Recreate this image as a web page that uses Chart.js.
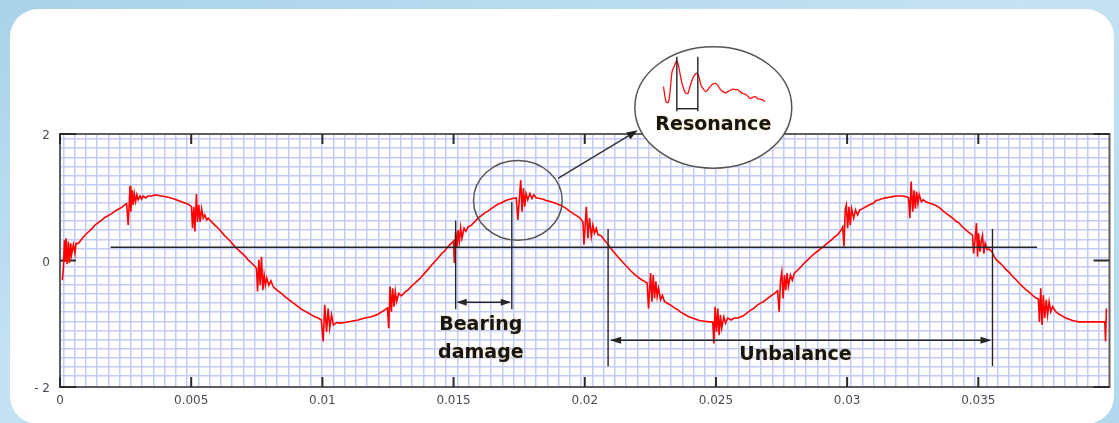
<!DOCTYPE html>
<html>
<head>
<meta charset="utf-8">
<script src="https://cdn.jsdelivr.net/npm/chart.js@4.4.0/dist/chart.umd.min.js"></script>
<style>
  html, body { margin: 0; padding: 0; width: 1119px; height: 423px; overflow: hidden; }
  body { background: linear-gradient(160deg, #a9d2ea 0%, #c4e2f3 45%, #b3d8ee 100%); position: relative; }
  .card { position: absolute; left: 10px; top: 9px; width: 1104px; height: 415px; background: #ffffff; border-radius: 28px; }
  canvas { position: absolute; left: 0; top: 0; }
</style>
</head>
<body>
<div class="card"></div>
<canvas id="c" width="1119" height="423"></canvas>
<script>
// ---------- axis ticks ----------
const X_TICKS = [0, 0.005, 0.01, 0.015, 0.02, 0.025, 0.03, 0.035];
const X_TICK_LABELS = ['0', '0.005', '0.01', '0.015', '0.02', '0.025', '0.03', '0.035'];
const Y_TICKS = [-2, 0, 2];
const Y_TICK_LABELS = ['- 2', '0', '2'];

// ---------- measured vibration signal (time in ms, amplitude) ----------
const TIME_MS = [
  0.09,0.13,0.17,0.19,0.23,0.27,0.32,0.36,0.41,0.44,
  0.51,0.57,0.61,0.70,0.83,0.95,1.08,1.21,1.33,1.46,
  1.59,1.71,1.84,1.97,2.09,2.22,2.35,2.50,2.54,2.60,
  2.67,2.70,2.75,2.79,2.83,2.88,2.93,2.98,3.05,3.11,
  3.17,3.26,3.36,3.49,3.62,3.87,4.13,4.38,4.63,4.89,
  5.01,5.05,5.10,5.14,5.20,5.24,5.29,5.34,5.40,5.46,
  5.52,5.59,5.65,5.78,5.90,6.03,6.16,6.28,6.41,6.54,
  6.66,6.79,6.92,7.05,7.17,7.30,7.43,7.49,7.53,7.58,
  7.63,7.68,7.73,7.78,7.83,7.88,7.96,8.04,8.12,8.19,
  8.31,8.44,8.57,8.70,8.82,8.95,9.08,9.20,9.33,9.46,
  9.58,9.71,9.84,9.96,10.03,10.09,10.16,10.22,10.28,10.35,
  10.42,10.54,10.66,10.85,11.11,11.36,11.61,11.87,12.12,12.38,
  12.48,12.53,12.58,12.63,12.68,12.73,12.78,12.83,12.91,13.01,
  13.14,13.26,13.39,13.52,13.65,13.77,13.90,14.03,14.15,14.28,
  14.41,14.53,14.66,14.79,14.91,15.00,15.03,15.08,15.13,15.17,
  15.22,15.27,15.32,15.40,15.47,15.55,15.68,15.80,15.93,16.06,
  16.18,16.31,16.44,16.57,16.69,16.82,16.95,17.07,17.26,17.39,
  17.45,17.56,17.61,17.66,17.71,17.76,17.83,17.91,17.99,18.06,
  18.15,18.28,18.41,18.53,18.72,18.91,19.10,19.23,19.42,19.61,
  19.80,19.93,19.97,20.06,20.12,20.18,20.25,20.31,20.37,20.44,
  20.50,20.63,20.75,20.88,21.01,21.14,21.26,21.39,21.52,21.64,
  21.77,21.90,22.02,22.15,22.28,22.38,22.43,22.51,22.56,22.61,
  22.66,22.71,22.76,22.81,22.89,22.96,23.04,23.17,23.29,23.42,
  23.55,23.67,23.80,23.93,24.05,24.18,24.37,24.56,24.75,24.88,
  24.92,24.97,25.02,25.07,25.12,25.17,25.22,25.30,25.37,25.45,
  25.58,25.70,25.83,25.96,26.09,26.21,26.34,26.47,26.59,26.72,
  26.85,26.97,27.10,27.23,27.35,27.41,27.46,27.51,27.56,27.61,
  27.66,27.71,27.76,27.84,27.91,27.99,28.12,28.24,28.37,28.50,
  28.62,28.75,28.88,29.00,29.13,29.26,29.39,29.51,29.64,29.77,
  29.83,29.88,29.93,29.97,30.02,30.07,30.12,30.17,30.25,30.32,
  30.40,30.48,30.59,30.72,30.85,30.97,31.04,31.10,31.23,31.35,
  31.48,31.61,31.73,31.86,31.99,32.11,32.24,32.34,32.39,32.44,
  32.50,32.55,32.60,32.65,32.70,32.75,32.83,32.90,33.00,33.13,
  33.26,33.38,33.51,33.64,33.76,33.89,34.02,34.15,34.27,34.40,
  34.53,34.65,34.78,34.82,34.88,34.93,34.97,35.01,35.06,35.11,
  35.16,35.21,35.26,35.34,35.41,35.52,35.61,35.69,35.80,35.92,
  36.05,36.18,36.30,36.43,36.56,36.68,36.81,36.94,37.07,37.19,
  37.29,37.33,37.38,37.43,37.48,37.53,37.59,37.64,37.70,37.76,
  37.83,37.95,38.08,38.21,38.33,38.46,38.59,38.72,38.84,39.10,
  39.35,39.60,39.82,39.85,39.88
];
const AMPLITUDE = [
  -0.31,-0.12,0.32,-0.02,0.35,-0.06,0.30,-0.04,0.27,0.09,
  0.25,0.11,0.27,0.27,0.34,0.40,0.45,0.50,0.56,0.60,
  0.64,0.68,0.71,0.74,0.78,0.81,0.84,0.89,0.90,0.56,
  1.18,0.77,1.11,0.88,1.06,0.93,1.04,0.96,1.02,0.97,
  1.02,0.99,1.02,1.02,1.04,1.02,1.00,0.97,0.93,0.89,
  0.85,0.51,0.85,0.46,1.05,0.61,0.88,0.61,0.82,0.67,
  0.72,0.64,0.67,0.61,0.56,0.51,0.45,0.39,0.34,0.28,
  0.22,0.17,0.12,0.07,0.01,-0.04,-0.09,-0.13,-0.49,0.01,
  -0.39,0.06,-0.47,-0.23,-0.39,-0.28,-0.39,-0.32,-0.41,-0.44,
  -0.48,-0.52,-0.57,-0.61,-0.65,-0.69,-0.73,-0.77,-0.80,-0.83,
  -0.86,-0.89,-0.91,-0.94,-1.28,-0.70,-1.13,-0.76,-1.07,-0.86,
  -1.02,-0.98,-0.99,-0.98,-0.96,-0.94,-0.91,-0.89,-0.85,-0.78,
  -0.75,-1.07,-0.41,-0.81,-0.44,-0.73,-0.49,-0.65,-0.52,-0.56,
  -0.50,-0.47,-0.41,-0.36,-0.31,-0.26,-0.20,-0.14,-0.08,-0.02,
  0.04,0.10,0.15,0.22,0.27,0.31,-0.04,0.46,0.20,0.48,
  0.30,0.52,0.35,0.51,0.46,0.53,0.56,0.61,0.67,0.71,
  0.75,0.78,0.82,0.86,0.89,0.91,0.94,0.96,0.98,0.99,
  0.64,1.27,0.77,1.14,0.85,1.06,0.96,1.06,0.98,1.04,
  0.99,0.98,0.97,0.95,0.93,0.90,0.87,0.84,0.78,0.73,
  0.68,0.61,0.25,0.85,0.35,0.67,0.38,0.56,0.43,0.51,
  0.41,0.39,0.32,0.26,0.18,0.12,0.06,0.00,-0.06,-0.11,
  -0.17,-0.22,-0.26,-0.30,-0.33,-0.36,-0.76,-0.20,-0.65,-0.23,
  -0.60,-0.33,-0.57,-0.44,-0.62,-0.55,-0.65,-0.68,-0.71,-0.75,
  -0.78,-0.82,-0.85,-0.88,-0.90,-0.92,-0.95,-0.96,-0.97,-0.97,
  -1.31,-0.73,-1.13,-0.76,-1.18,-0.86,-1.07,-0.89,-0.99,-0.91,
  -0.94,-0.91,-0.91,-0.89,-0.86,-0.82,-0.78,-0.75,-0.70,-0.67,
  -0.64,-0.60,-0.56,-0.52,-0.48,-0.81,-0.31,-0.18,-0.60,-0.23,
  -0.47,-0.20,-0.41,-0.23,-0.31,-0.20,-0.15,-0.10,-0.04,0.01,
  0.06,0.11,0.15,0.19,0.23,0.28,0.32,0.37,0.41,0.48,
  0.53,0.22,0.82,0.88,0.51,0.85,0.56,0.82,0.67,0.80,
  0.72,0.80,0.82,0.85,0.88,0.90,0.92,0.95,0.96,0.98,
  0.99,1.00,1.01,1.02,1.02,1.02,1.01,0.99,0.67,1.25,
  0.77,1.11,0.82,1.09,0.90,1.04,0.93,0.96,0.93,0.91,
  0.89,0.87,0.84,0.79,0.75,0.71,0.67,0.62,0.59,0.53,
  0.48,0.44,0.40,0.11,0.35,0.59,0.06,0.43,0.14,0.30,
  0.40,0.11,0.27,0.17,0.18,0.14,0.06,0.01,-0.03,-0.08,
  -0.14,-0.19,-0.25,-0.30,-0.36,-0.41,-0.46,-0.50,-0.55,-0.59,
  -0.61,-0.97,-0.44,-1.02,-0.55,-0.91,-0.62,-0.86,-0.65,-0.81,
  -0.73,-0.81,-0.85,-0.88,-0.91,-0.93,-0.95,-0.96,-0.97,-0.97,
  -0.97,-0.97,-0.97,-1.28,-0.76
];

// ---------- resonance close-up (drawn in data units above the plot) ----------
const INSET_MS = [23.00,23.10,23.19,23.27,23.33,23.42,23.51,23.57,23.65,23.74,
  23.84,23.93,23.99,24.09,24.18,24.27,24.35,24.43,24.52,24.60,
  24.69,24.78,24.88,24.98,25.07,25.16,25.26,25.36,25.45,25.54,
  25.64,25.74,25.83,25.92,26.02,26.12,26.21,26.30,26.40,26.50,
  26.59,26.68,26.78,26.87];
const INSET_Y = [2.75,2.51,2.50,2.75,2.99,3.08,3.16,3.09,2.91,2.75,
  2.65,2.64,2.72,2.85,2.93,2.96,2.91,2.77,2.71,2.67,
  2.70,2.75,2.79,2.80,2.77,2.71,2.67,2.65,2.67,2.69,
  2.71,2.70,2.70,2.67,2.64,2.63,2.60,2.56,2.58,2.59,
  2.56,2.55,2.54,2.51];

// ---------- annotation anchors (data units: ms / amplitude) ----------
const REF_LINE = { from: 1.93, to: 37.24, y: 0.21 };
const BEARING = { t: [15.08, 17.22], top: [0.63, 0.93], bottom: -0.77, arrowY: -0.66, labelT: 16.04, labelY: [-1.02, -1.46], text: ['Bearing', 'damage'] };
const UNBALANCE = { t: [20.89, 35.54], top: 0.50, bottom: -1.67, arrowY: -1.26, labelT: 28.03, labelY: -1.49, text: 'Unbalance' };
const SMALL_RING = { t: 17.45, y: 0.95, rt: 1.69, ry: 0.63 };
const BIG_RING = { t: 24.90, y: 2.42, rt: 2.99, ry: 0.96 };
const POINTER = { from: [18.98, 1.30], to: [22.02, 2.06] };
const RESONANCE = { labelT: 24.90, labelY: 2.14, text: 'Resonance', barT: [23.51, 24.31], barTop: 3.22, barBottom: 2.36, barY: 2.40 };

// ---------- build datasets ----------
const wave = TIME_MS.map((t, i) => ({ x: t / 1000, y: AMPLITUDE[i] }));
const inset = INSET_MS.map((t, i) => ({ x: t / 1000, y: INSET_Y[i] }));

const GRID_X = { start: 0.000126, step: 0.000429 };
const GRID_Y = { start: -1.826, step: 0.1441 };

function seg(ctx, x1, y1, x2, y2) { ctx.beginPath(); ctx.moveTo(x1, y1); ctx.lineTo(x2, y2); ctx.stroke(); }
function head(ctx, x, y, ang, len, half) {
  ctx.beginPath();
  ctx.moveTo(x, y);
  ctx.lineTo(x - len * Math.cos(ang) + half * Math.sin(ang), y - len * Math.sin(ang) - half * Math.cos(ang));
  ctx.lineTo(x - len * Math.cos(ang) - half * Math.sin(ang), y - len * Math.sin(ang) + half * Math.cos(ang));
  ctx.closePath();
  ctx.fill();
}

const annotations = {
  id: 'annotations',
  beforeDatasetsDraw(chart) {
    const { ctx, chartArea: a, scales } = chart;
    const X = ms => scales.x.getPixelForValue(ms / 1000);
    const Y = v => scales.y.getPixelForValue(v);
    ctx.save();
    // frame
    ctx.strokeStyle = '#5e5e5e';
    ctx.lineWidth = 2;
    ctx.strokeRect(a.left, a.top, a.right - a.left, a.bottom - a.top);
    // inner tick marks
    ctx.strokeStyle = '#2a2a2a';
    ctx.lineWidth = 2;
    X_TICKS.forEach(v => {
      const px = scales.x.getPixelForValue(v);
      seg(ctx, px, a.bottom, px, a.bottom - 10);
      seg(ctx, px, a.top, px, a.top + 10);
    });
    Y_TICKS.forEach(v => {
      const py = Y(v);
      seg(ctx, a.left, py, a.left + 16, py);
      seg(ctx, a.right, py, a.right - 16, py);
    });
    // big ring (white filled)
    const cx = X(BIG_RING.t), cy = Y(BIG_RING.y);
    const rx = X(BIG_RING.t + BIG_RING.rt) - cx, ry = cy - Y(BIG_RING.y + BIG_RING.ry);
    ctx.beginPath();
    ctx.ellipse(cx, cy, rx, ry, 0, 0, Math.PI * 2);
    ctx.fillStyle = '#ffffff';
    ctx.fill();
    ctx.strokeStyle = '#555555';
    ctx.lineWidth = 1.5;
    ctx.stroke();
    ctx.restore();
  },
  afterDatasetsDraw(chart) {
    const { ctx, scales } = chart;
    const X = ms => scales.x.getPixelForValue(ms / 1000);
    const Y = v => scales.y.getPixelForValue(v);
    ctx.save();
    ctx.strokeStyle = '#262626';
    ctx.fillStyle = '#262626';
    ctx.lineWidth = 1.6;
    // reference level line
    seg(ctx, X(REF_LINE.from), Y(REF_LINE.y), X(REF_LINE.to), Y(REF_LINE.y));
    // bearing damage markers
    ctx.lineWidth = 1.4;
    BEARING.t.forEach((t, i) => seg(ctx, X(t), Y(BEARING.top[i]), X(t), Y(BEARING.bottom)));
    const ba = Y(BEARING.arrowY);
    seg(ctx, X(BEARING.t[0]) + 2, ba, X(BEARING.t[1]) - 2, ba);
    head(ctx, X(BEARING.t[0]) + 1, ba, Math.PI, 10, 3.5);
    head(ctx, X(BEARING.t[1]) - 1, ba, 0, 10, 3.5);
    // unbalance markers
    UNBALANCE.t.forEach(t => seg(ctx, X(t), Y(UNBALANCE.top), X(t), Y(UNBALANCE.bottom)));
    const ua = Y(UNBALANCE.arrowY);
    seg(ctx, X(UNBALANCE.t[0]) + 3, ua, X(UNBALANCE.t[1]) - 3, ua);
    head(ctx, X(UNBALANCE.t[0]) + 2, ua, Math.PI, 11, 3.5);
    head(ctx, X(UNBALANCE.t[1]) - 1, ua, 0, 11, 3.5);
    // small ring
    const sx = X(SMALL_RING.t), sy = Y(SMALL_RING.y);
    ctx.strokeStyle = '#555555';
    ctx.lineWidth = 1.5;
    ctx.beginPath();
    ctx.ellipse(sx, sy, X(SMALL_RING.t + SMALL_RING.rt) - sx, sy - Y(SMALL_RING.y + SMALL_RING.ry), 0, 0, Math.PI * 2);
    ctx.stroke();
    // pointer
    ctx.strokeStyle = '#333333';
    ctx.fillStyle = '#1e1e1e';
    const p1x = X(POINTER.from[0]), p1y = Y(POINTER.from[1]);
    const p2x = X(POINTER.to[0]), p2y = Y(POINTER.to[1]);
    const ang = Math.atan2(p2y - p1y, p2x - p1x);
    ctx.lineWidth = 1.5;
    seg(ctx, p1x, p1y, p2x - 8 * Math.cos(ang), p2y - 8 * Math.sin(ang));
    head(ctx, p2x, p2y, ang, 11, 4);
    // resonance bars
    ctx.strokeStyle = '#222222';
    ctx.lineWidth = 1.4;
    RESONANCE.barT.forEach(t => seg(ctx, X(t), Y(RESONANCE.barTop), X(t), Y(RESONANCE.barBottom)));
    seg(ctx, X(RESONANCE.barT[0]), Y(RESONANCE.barY), X(RESONANCE.barT[1]), Y(RESONANCE.barY));
    // labels
    ctx.font = 'bold 19px "DejaVu Sans", sans-serif';
    ctx.textAlign = 'center';
    ctx.textBaseline = 'middle';
    ctx.fillStyle = '#151515';
    ctx.shadowColor = 'rgba(230,170,40,0.55)';
    ctx.shadowBlur = 2;
    BEARING.text.forEach((s, i) => ctx.fillText(s, X(BEARING.labelT), Y(BEARING.labelY[i])));
    ctx.fillText(UNBALANCE.text, X(UNBALANCE.labelT), Y(UNBALANCE.labelY));
    ctx.fillText(RESONANCE.text, X(RESONANCE.labelT), Y(RESONANCE.labelY));
    ctx.restore();
  }
};

Chart.defaults.font.family = '"DejaVu Sans", sans-serif';

new Chart(document.getElementById('c'), {
  type: 'line',
  data: {
    datasets: [
      { data: wave, borderColor: '#ff0000', borderWidth: 1.6, pointRadius: 0, tension: 0, xAxisID: 'x', yAxisID: 'y' },
      { data: inset, borderColor: '#ff1010', borderWidth: 1.3, pointRadius: 0, tension: 0.3, clip: false, xAxisID: 'x', yAxisID: 'y' }
    ]
  },
  options: {
    responsive: false,
    animation: false,
    events: [],
    layout: { padding: { top: 134, right: 9.5, left: 0, bottom: 0 } },
    plugins: { legend: { display: false }, tooltip: { enabled: false } },
    scales: {
      x: {
        type: 'linear', position: 'bottom', min: 0, max: 0.04,
        grid: { display: false, drawTicks: false },
        border: { display: false },
        ticks: { autoSkip: false, maxRotation: 0, padding: 7, color: '#4a4a55', font: { size: 12 },
          callback: (v, i) => X_TICK_LABELS[i] },
        afterBuildTicks: s => { s.ticks = X_TICKS.map(v => ({ value: v })); },
        afterFit: s => { s.height = 36; }
      },
      y: {
        type: 'linear', position: 'left', min: -2, max: 2,
        grid: { display: false, drawTicks: false },
        border: { display: false },
        ticks: { padding: 10, color: '#4a4a55', font: { size: 12 }, labelOffset: 2,
          callback: (v, i) => Y_TICK_LABELS[i] },
        afterBuildTicks: s => { s.ticks = Y_TICKS.map(v => ({ value: v })); },
        afterFit: s => { s.width = 60; }
      },
      xg: {
        type: 'linear', position: 'top', min: 0, max: 0.04,
        grid: { color: '#c3ccf7', lineWidth: 1.5, drawTicks: false },
        border: { display: false },
        ticks: { display: false },
        afterBuildTicks: s => { const t = []; for (let v = GRID_X.start; v < 0.04; v += GRID_X.step) t.push({ value: v }); s.ticks = t; },
        afterFit: s => { s.height = 0; }
      },
      yg: {
        type: 'linear', position: 'right', min: -2, max: 2,
        grid: { color: '#c3ccf7', lineWidth: 1.5, drawTicks: false },
        border: { display: false },
        ticks: { display: false },
        afterBuildTicks: s => { const t = []; for (let v = GRID_Y.start; v < 2; v += GRID_Y.step) t.push({ value: v }); s.ticks = t; },
        afterFit: s => { s.width = 0; }
      }
    }
  },
  plugins: [annotations]
});
</script>
</body>
</html>
